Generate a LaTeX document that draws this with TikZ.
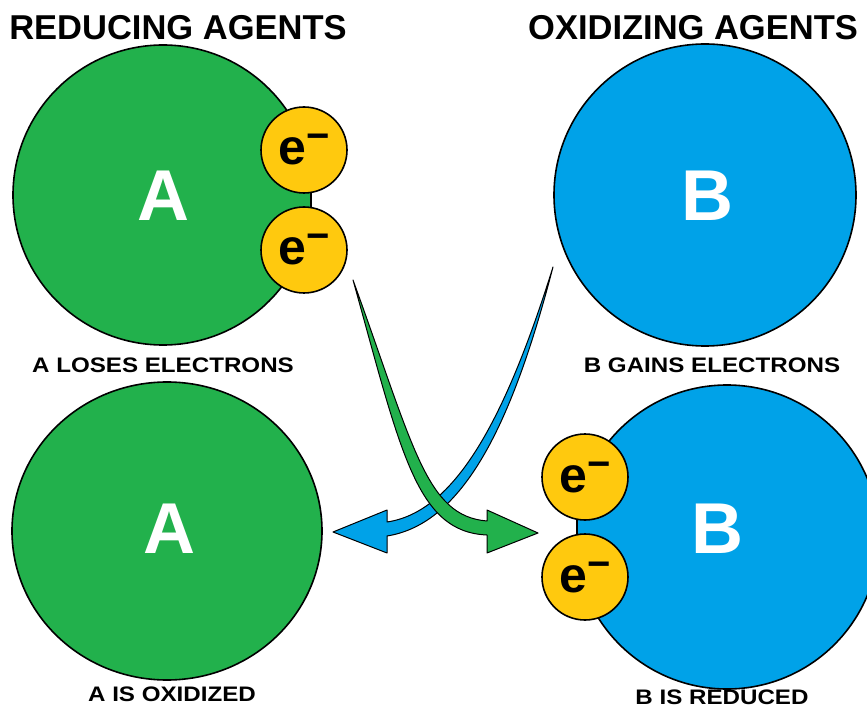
\documentclass[tikz,border=0pt]{standalone}
\usepackage{fontspec}
\setmainfont{Liberation Sans}
\definecolor{agreen}{HTML}{22B14C}
\definecolor{bblue}{HTML}{00A2E8}
\definecolor{egold}{HTML}{FFC90E}
\tikzset{
  blob/.style={draw=black, line width=1.6pt},
  elec/.style={circle, draw=black, line width=1.6pt, fill=egold, minimum size=86pt, inner sep=0pt},
  big/.style={text=white, font=\fontsize{72}{72}\selectfont\bfseries, inner sep=0pt},
  title/.style={font=\fontsize{34.5}{34.5}\selectfont\bfseries, inner sep=0pt},
  lab/.style={font=\fontsize{21}{21}\selectfont\bfseries, inner sep=0pt}
}
\tikzset{arr/.style={draw=black, line width=1pt, line join=round}}
\newcommand{\elabel}{\bfseries\fontsize{50}{50}\selectfont e\raisebox{15pt}{\fontsize{40}{40}\selectfont −}}
\newcommand{\wide}[1]{\scalebox{1.15}[1]{#1}}
\begin{document}
\begin{tikzpicture}[x=1pt,y=-1pt]
\useasboundingbox (0,0) rectangle (867,708);
\fill[white] (0,0) rectangle (867,708);
% top A (clipped at right)
\begin{scope}
  \clip (-10,-10) rectangle (311,360);
  \draw[blob, fill=agreen] (163,195) circle (150);
\end{scope}
\draw[line width=1.6pt] (311,160) -- (311,230);
\node[elec] (e1) at (304,150) {\elabel};
\node[elec] (e2) at (304,250) {\elabel};
\node[big] (A1) at (163,196) {A};
% top B
\node[circle, blob, fill=bblue, minimum size=302pt, inner sep=0pt] (B1) at (705,195) {};
\node[big] (B1t) at (707,196) {B};
% bottom A
\draw[blob, fill=agreen] (167,531) ellipse (155 and 149);
\node[big] (A2) at (169,529) {A};
% bottom B (clipped at left)
\begin{scope}
  \clip (577,370) rectangle (900,720);
  \draw[blob, fill=bblue] (727,537) circle (152);
\end{scope}
\draw[line width=1.6pt] (577,500) -- (577,570);
\node[elec] (e3) at (585,477) {\elabel};
\node[elec] (e4) at (585,577) {\elabel};
\node[big] (B2) at (717,529) {B};
% titles and labels
\node[title] (t1) at (178,28) {REDUCING AGENTS};
\node[title] (t2) at (693,28) {OXIDIZING AGENTS};
\node[lab] (l1) at (163,365) {\wide{A LOSES ELECTRONS}};
\node[lab] (l2) at (712,365) {\wide{B GAINS ELECTRONS}};
\node[lab] (l3) at (172,694) {\wide{A IS OXIDIZED}};
\node[lab] (l4) at (722,697) {\wide{B IS REDUCED}};
% blue arrow (under)
\draw[arr, fill=bblue] (553,267) .. controls (505,420) and (455,512) .. (387,522)
  -- (387,510) -- (333,532) -- (387,553) -- (387,536)
  .. controls (463,524) and (512,425) .. (553,267) -- cycle;
% green arrow (over)
\draw[arr, fill=agreen] (353,280) .. controls (414,448) and (426,516) .. (487,521)
  -- (487,510) -- (538,533) -- (487,553) -- (487,535)
  .. controls (416,532) and (401,452) .. (353,280) -- cycle;
\end{tikzpicture}
\end{document}
